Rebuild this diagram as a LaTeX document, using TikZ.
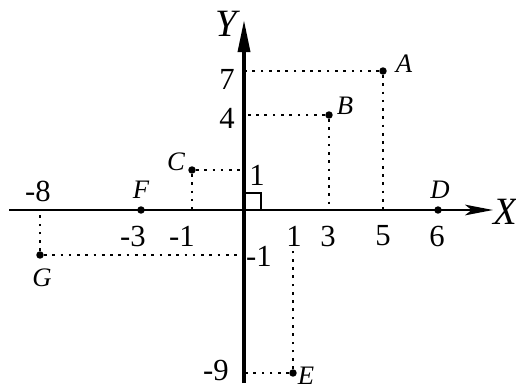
\documentclass[tikz,border=0pt]{standalone}
\usepackage{fontspec}
\setmainfont{Liberation Serif}
\usetikzlibrary{arrows.meta}
\begin{document}
\begin{tikzpicture}[x=0.75pt,y=-0.75pt,
  dot/.style={circle,fill=black,inner sep=0pt,minimum size=5.6pt},
  num/.style={inner sep=0pt,font=\fontsize{23}{23}\selectfont},
  pname/.style={inner sep=0pt,font=\fontsize{20}{20}\selectfont\itshape},
  axname/.style={inner sep=0pt,font=\fontsize{29}{29}\selectfont\itshape},
  guide/.style={line width=2pt,dash pattern=on 2pt off 4.2pt},
  yaxis/.style={line width=2.5pt,-{Stealth[length=24pt,width=9pt,inset=0pt]}},
  xaxis/.style={line width=1.6pt,-{Stealth[length=21pt,width=8pt,inset=5pt]}}]
\useasboundingbox (0,0) rectangle (516,389);
% axes
\coordinate (xs) at (9,210);
\coordinate (xe) at (493,210);
\coordinate (ys) at (244,383);
\coordinate (ye) at (244,20);
\coordinate (O) at (244,210);
\draw[xaxis] (xs) -- (xe);
\draw[yaxis] (ys) -- (ye);
\node[axname] (Ylab) at (226,24) {Y};
\node[axname] (Xlab) at (505,212) {X};
% right angle
\draw[line width=1.1pt] (O) rectangle (261,193);
% points
\node[dot] (A) at (383,71) {};
\node[dot] (B) at (329,115) {};
\node[dot] (C) at (192,170) {};
\node[dot] (D) at (438,210) {};
\node[dot] (E) at (293,373) {};
\node[dot] (F) at (141,210) {};
\node[dot] (G) at (40,255) {};
% axis feet
\coordinate (Ay) at (244,71);  \coordinate (Ax) at (383,210);
\coordinate (By) at (244,115); \coordinate (Bx) at (329,210);
\coordinate (Cy) at (244,170); \coordinate (Cx) at (192,210);
\coordinate (Gy) at (244,255); \coordinate (Gx) at (40,210);
\coordinate (Ey) at (244,373); \coordinate (Ex) at (293,247);
% guides
\draw[guide] (A) -- (Ay);
\draw[guide] (A) -- (Ax);
\draw[guide] (B) -- (By);
\draw[guide] (B) -- (Bx);
\draw[guide] (C) -- (Cy);
\draw[guide] (C) -- (Cx);
\draw[guide] (G) -- (Gy);
\draw[guide] (G) -- (Gx);
\draw[guide] (E) -- (Ey);
\draw[guide] (E) -- (Ex);
% point names
\node[pname] (Alab) at (404,64) {A};
\node[pname] (Blab) at (345,106) {B};
\node[pname] (Clab) at (176,162) {C};
\node[pname] (Dlab) at (440,190) {D};
\node[pname] (Elab) at (306,376) {E};
\node[pname] (Flab) at (141,190) {F};
\node[pname] (Glab) at (42,278) {G};
% numbers
\node[num] (n7) at (227,79) {7};
\node[num] (n4) at (227,118) {4};
\node[num] (n1y) at (257,175) {1};
\node[num] (nm1y) at (259,256) {-1};
\node[num] (nm9) at (216,370) {-9};
\node[num] (nm8) at (38,191) {-8};
\node[num] (nm3) at (133,236) {-3};
\node[num] (nm1x) at (182,236) {-1};
\node[num] (n1x) at (294,236) {1};
\node[num] (n3) at (328,236) {3};
\node[num] (n5) at (383,236) {5};
\node[num] (n6) at (437,236) {6};
\end{tikzpicture}
\end{document}
